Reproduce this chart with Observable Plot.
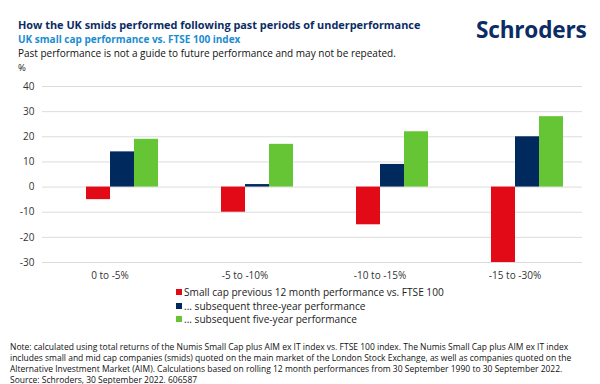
<!DOCTYPE html>
<html>
<head>
<meta charset="utf-8">
<script src="https://cdn.jsdelivr.net/npm/d3@7"></script>
<script src="https://cdn.jsdelivr.net/npm/@observablehq/plot@0.6"></script>
<style>
  html, body { margin: 0; padding: 0; background: #fff; }
  #wrap { position: relative; width: 600px; height: 384px; overflow: hidden; font-family: "Open Sans", sans-serif; }
  .abs { position: absolute; white-space: nowrap; }
  #title { left: 18px; top: 18px; font-size: 10.9px; line-height: 14px; font-weight: 700; color: #0b2c64; }
  #subtitle { left: 18px; top: 32px; font-size: 10px; line-height: 14px; font-weight: 700; color: #1a8dd0; }
  #disc { left: 18px; top: 46px; font-size: 10px; line-height: 14px; color: #111; }
  #unit { left: 18px; top: 61px; font-size: 9.5px; line-height: 14px; color: #222; }
  #logo { left: 476px; top: 15px; font-size: 22.6px; line-height: 30px; font-weight: 700; color: #0b2c64; letter-spacing: -0.2px; }
  #chart { left: 0; top: 60px; }
  #legend { left: 176px; top: 286px; font-size: 10.1px; line-height: 13.7px; color: #222; }
  #legend .sw { display: inline-block; width: 6px; height: 6px; margin-right: 2px; vertical-align: 1px; }
  #note { left: 10px; top: 340.5px; font-size: 8.5px; line-height: 11px; color: #111; }
</style>
</head>
<body>
<div id="wrap">
  <div class="abs" id="title"></div>
  <div class="abs" id="subtitle"></div>
  <div class="abs" id="disc"></div>
  <div class="abs" id="unit"></div>
  <div class="abs" id="logo"></div>
  <div class="abs" id="chart"></div>
  <div class="abs" id="legend"></div>
  <div class="abs" id="note"></div>
</div>
<script>
const titleText = "How the UK smids performed following past periods of underperformance";
const subtitleText = "UK small cap performance vs. FTSE 100 index";
const disclaimerText = "Past performance is not a guide to future performance and may not be repeated.";
const unitText = "%";
const logoText = "Schroders";

const categories = ["0 to -5%", "-5 to -10%", "-10 to -15%", "-15 to -30%"];
const seriesNames = [
  "Small cap previous 12 month performance vs. FTSE 100",
  "... subsequent three-year performance",
  "... subsequent five-year performance"
];
const seriesColors = ["#e20a17", "#002a5e", "#66c535"];
const prev12m = [-5, -10, -15, -30];
const threeYear = [14, 1, 9, 20];
const fiveYear = [19, 17, 22, 28];
const yTicks = [-30, -20, -10, 0, 10, 20, 30, 40];
const noteLines = [
  "Note: calculated using total returns of the Numis Small Cap plus AIM ex IT index vs. FTSE 100 index. The Numis Small Cap plus AIM ex IT index",
  "includes small and mid cap companies (smids) quoted on the main market of the London Stock Exchange, as well as companies quoted on the",
  "Alternative Investment Market (AIM). Calculations based on rolling 12 month performances from 30 September 1990 to 30 September 2022.",
  "Source: Schroders, 30 September 2022. 606587"
];

document.getElementById("title").textContent = titleText;
document.getElementById("subtitle").textContent = subtitleText;
document.getElementById("disc").textContent = disclaimerText;
document.getElementById("unit").textContent = unitText;
document.getElementById("logo").textContent = logoText;

const seriesValues = [prev12m, threeYear, fiveYear];
const rows = [];
categories.forEach((c, i) => {
  seriesNames.forEach((s, j) => rows.push({category: c, series: s, value: seriesValues[j][i]}));
});

const chart = Plot.plot({
  width: 600,
  height: 230,
  marginTop: 26,
  marginBottom: 28,
  marginLeft: 40,
  marginRight: 17,
  style: {fontFamily: "Open Sans, sans-serif", fontSize: "10px", color: "#333"},
  fx: {domain: categories, padding: 0, label: null},
  x: {domain: ["", ...seriesNames], paddingInner: 0, paddingOuter: 0.77, axis: null},
  y: {domain: [-30, 40], label: null},
  color: {domain: seriesNames, range: seriesColors},
  marks: [
    Plot.ruleY(yTicks, {stroke: "#dcdcdc", strokeWidth: 1}),
    Plot.axisY({ticks: yTicks, tickSize: 0, tickPadding: 8, tickFormat: d => String(d), label: null}),
    Plot.barY(rows, {fx: "category", x: "series", y: "value", fill: "series"}),
    Plot.axisFx({anchor: "bottom", tickSize: 0, tickPadding: 9, label: null})
  ]
});
document.getElementById("chart").appendChild(chart);

const legend = document.getElementById("legend");
seriesNames.forEach((s, j) => {
  const row = document.createElement("div");
  const sw = document.createElement("span");
  sw.className = "sw";
  sw.style.background = seriesColors[j];
  row.appendChild(sw);
  row.appendChild(document.createTextNode(s));
  legend.appendChild(row);
});

const note = document.getElementById("note");
noteLines.forEach(t => {
  const d = document.createElement("div");
  d.textContent = t;
  note.appendChild(d);
});
</script>
</body>
</html>
